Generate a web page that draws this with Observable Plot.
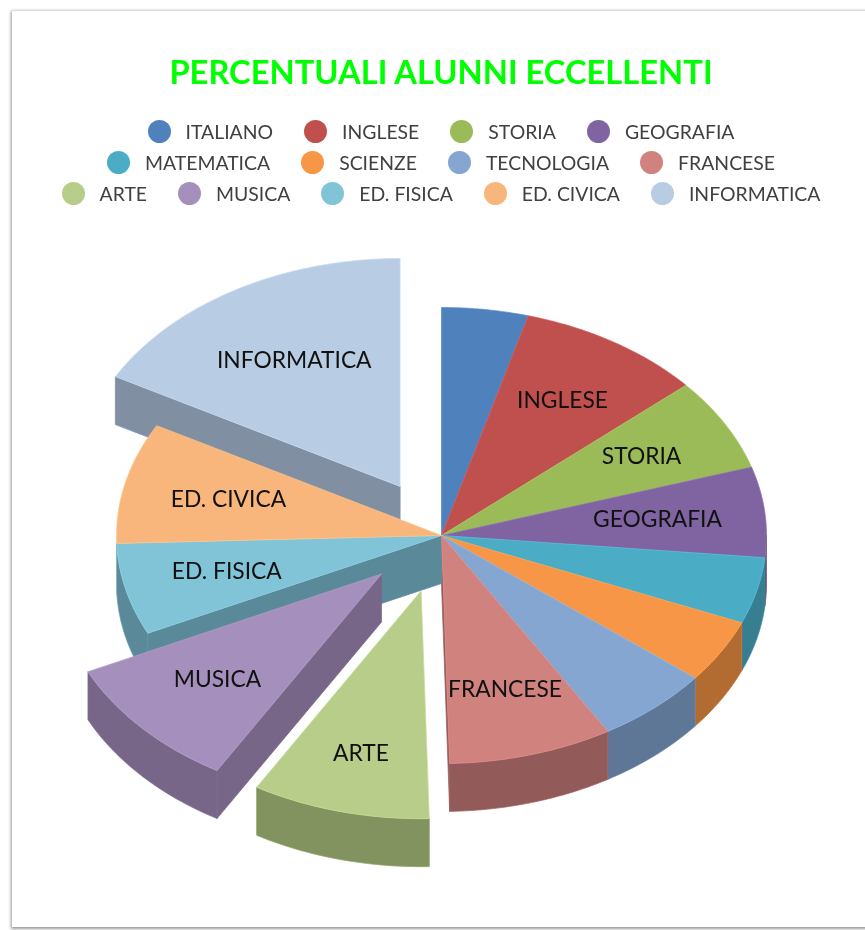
<!DOCTYPE html>
<html><head><meta charset="utf-8">
<script src="https://cdn.jsdelivr.net/npm/d3@7"></script>
<script src="https://cdn.jsdelivr.net/npm/@observablehq/plot@0.6"></script>
<style>
html,body{margin:0;padding:0;background:#fff;width:865px;height:930px;overflow:hidden;font-family:Lato,sans-serif}
#card{position:absolute;left:12px;top:11px;width:900px;height:916px;background:#fff;box-shadow:0 1px 3px 1px #999}
#title{position:absolute;left:12px;width:858px;top:50px;text-align:center;color:#00ff00;font-weight:700;font-size:32.7px;line-height:44px;white-space:nowrap;filter:blur(.3px)}
.row{position:absolute;left:0;width:882px;display:flex;justify-content:center;gap:31px;height:24px;align-items:center;color:#404040;font-size:19.4px;white-space:nowrap;filter:blur(.3px)}
.it{display:flex;align-items:center;gap:15px}
.dot{width:23px;height:23px;border-radius:50%;display:inline-block}
#chart{position:absolute;left:0;top:220px;filter:blur(.3px)}
svg{display:block}
</style></head><body>
<div id="card"></div>
<div id="title"></div>
<div id="legend"></div>
<div id="chart"></div>
<script>
const titleText = "PERCENTUALI ALUNNI ECCELLENTI";
const subjects = ["ITALIANO","INGLESE","STORIA","GEOGRAFIA","MATEMATICA","SCIENZE","TECNOLOGIA","FRANCESE","ARTE","MUSICA","ED. FISICA","ED. CIVICA","INFORMATICA"];
const percentages = [4.3,9.25,6.6,6.4,4.7,4.5,5.7,8.15,8.85,9.5,6.5,8.55,17.0];
const topColors = ["#4f81bd","#c0504d","#9bbb59","#8064a2","#4bacc6","#f79646","#84a6d1","#d0827e","#b9cd8a","#a590bd","#81c4d7","#f9b67c","#b8cce4"];
const wallColors = ["#3b608d","#8f3c3a","#748c43","#604b79","#367e90","#b26b30","#5f7796","#925b5a","#83935f","#776688","#5a8a9a","#b0835a","#808fa1"];
const explodedSubjects = ["ARTE","MUSICA","INFORMATICA"];
const labelledSubjects = ["INGLESE","STORIA","GEOGRAFIA","FRANCESE","ARTE","MUSICA","ED. FISICA","ED. CIVICA","INFORMATICA"];
const legendRows = [subjects.slice(0,4), subjects.slice(4,8), subjects.slice(8)];

// page furniture
document.getElementById("title").textContent = titleText;
const legendBox = document.getElementById("legend");
legendRows.forEach((row,i)=>{
  const r = document.createElement("div"); r.className="row"; r.style.top=(119+i*31)+"px";
  row.forEach(name=>{
    const it=document.createElement("div"); it.className="it";
    const d=document.createElement("span"); d.className="dot"; d.style.background=topColors[subjects.indexOf(name)];
    const s=document.createElement("span"); s.textContent=name;
    it.append(d,s); r.append(it);
  });
  legendBox.append(r);
});

// pie geometry in unit-ellipse coordinates; the x/y scales map them to the tilted ellipse
const depth = 48/228, explode = 0.25;
const total = d3.sum(percentages);
let acc = 0;
const slices = subjects.map((name,i)=>{
  const t0 = acc/total*360; acc += percentages[i]; const t1 = acc/total*360;
  const ex = explodedSubjects.includes(name);
  const mid = (t0+t1)/2*Math.PI/180;
  return {name,i,t0,t1,mid,ex,ox:ex?explode*Math.sin(mid):0,oy:ex?-explode*Math.cos(mid):0};
});
const pt = (s,t,r=1,dz=0)=>{const a=t*Math.PI/180;return {x:s.ox+r*Math.sin(a),y:s.oy-r*Math.cos(a)+dz};};
const arc = (s,a,b,dz=0)=>{const n=Math.max(2,Math.ceil(Math.abs(b-a)));return d3.range(n+1).map(k=>pt(s,a+(b-a)*k/n,1,dz));};
const polys=[]; let polyId=0;
const addPoly=(pts,fill,stroke)=>{const z=polyId++;pts.concat(pts[0]).forEach(p=>polys.push({...p,z,fill,stroke}));};
const topFace=s=>addPoly([pt(s,0,0),...arc(s,s.t0,s.t1)],topColors[s.i],d3.color(topColors[s.i]).brighter(.25).formatHex());
const wallFaces=s=>{
  const c=wallColors[s.i], st=d3.color(c).brighter(.25).formatHex();
  const prev=slices[s.i-1], next=slices[s.i+1];
  if(s.t0>180&&(s.ex||prev.ex)){addPoly([pt(s,0,0),pt(s,s.t0),pt(s,s.t0,1,depth),pt(s,0,0,depth)],c,c);}
  if(s.t1<180&&next&&next.ex){addPoly([pt(s,0,0),pt(s,s.t1),pt(s,s.t1,1,depth),pt(s,0,0,depth)],c,c);}
  const a=Math.max(s.t0,90),b=Math.min(s.t1,270);
  if(a<b-3){addPoly([...arc(s,a,b),...arc(s,b,a,depth)],c,st);}
};
const infoSlice=slices.find(s=>s.name==="INFORMATICA");
const mainSlices=slices.filter(s=>!s.ex);
const frontSlices=slices.filter(s=>s.ex&&s!==infoSlice);
wallFaces(infoSlice);topFace(infoSlice);
mainSlices.forEach(wallFaces);mainSlices.forEach(topFace);
frontSlices.forEach(s=>{wallFaces(s);topFace(s);});

// distance of each slice label from its slice's apex, as a share of the radius
const labelRadius = {"INGLESE":.70,"STORIA":.706,"GEOGRAFIA":.668,"FRANCESE":.704,"ARTE":.74,"MUSICA":.685,"ED. FISICA":.68,"ED. CIVICA":.674,"INFORMATICA":.64};
const labels = slices.filter(s=>labelledSubjects.includes(s.name)).map(s=>{
  const p = pt(s,(s.t0+s.t1)/2,labelRadius[s.name]);
  return {...p,text:s.name};
});

const W=865,H=700,cx=441,cy=315,rx=325,ry=228;
document.getElementById("chart").append(Plot.plot({
  width:W,height:H,margin:0,
  x:{domain:[-cx/rx,(W-cx)/rx],range:[0,W],axis:null},
  y:{domain:[-cy/ry,(H-cy)/ry],range:[0,H],axis:null},
  color:{type:"identity"},
  style:{background:"transparent",overflow:"visible"},
  marks:[
    Plot.line(polys,{x:"x",y:"y",z:"z",fill:"fill",stroke:"stroke",strokeWidth:0.7,curve:"linear"}),
    Plot.text(labels,{x:"x",y:"y",text:"text",fontFamily:"Lato, sans-serif",fontSize:22.8,fill:"#111"})
  ]
}));
</script>
</body></html>
